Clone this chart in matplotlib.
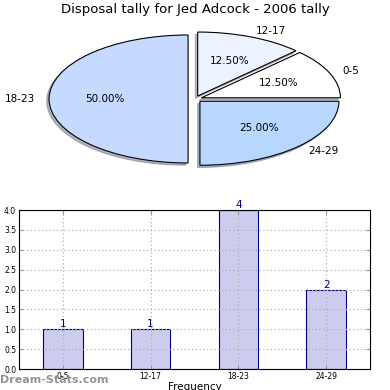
import matplotlib
matplotlib.use('Agg')
import matplotlib.pyplot as plt

# data
ages = ['0-5', '12-17', '18-23', '24-29']
tally = [1, 1, 4, 2]
pie_colors = ['#ffffff', '#edf2ff', '#c6d9ff', '#b7d7ff']

fig = plt.figure(figsize=(3.9, 3.9), dpi=100)

# pie (stretched, not circular)
ax1 = fig.add_axes([0.0367, 0.5328, 0.9267, 0.4267])
wedges, texts, autotexts = ax1.pie(
    tally, labels=ages, colors=pie_colors, explode=[0.05] * 4,
    autopct='%1.2f%%', shadow=dict(ox=-0.012, oy=-0.025, shade=0.5),
    startangle=0,
    wedgeprops=dict(edgecolor='black', linewidth=0.8),
    textprops=dict(fontsize=7.5))
ax1.set_aspect('auto')
ax1.set_xlim(-1.3, 1.3)
ax1.set_ylim(-1.3, 1.3)
ax1.axis('off')
fig.text(0.5, 0.975, 'Disposal tally for Jed Adcock - 2006 tally',
         ha='center', va='center', fontsize=9.5)

# bar chart
ax2 = fig.add_axes([0.0487, 0.0538, 0.9, 0.4077])
x = range(len(ages))
ax2.bar(x, tally, width=0.45, color='#ccccee', edgecolor='navy', linewidth=0.8)
for i, v in enumerate(tally):
    ax2.text(i, v, str(v), ha='center', va='bottom', color='navy', fontsize=7.5)
ax2.set_xlim(-0.5, 3.5)
ax2.set_ylim(0, 4)
ax2.set_yticks([0, 0.5, 1, 1.5, 2, 2.5, 3, 3.5, 4])
ax2.set_xticks(list(x))
ax2.set_xticklabels(ages)
ax2.tick_params(labelsize=5.5, direction='in', top=True, right=True,
                length=3, color='#999999', pad=2)
ax2.grid(True, linestyle=(0, (1, 2)), color='#b0b0b0', linewidth=0.9)
ax2.set_axisbelow(False)
for sp in ax2.spines.values():
    sp.set_zorder(4)
ax2.set_xlabel('Frequency', fontsize=7.5, labelpad=1)

fig.text(0.0, 0.025, 'Dream-Stats.com', color='#888888', fontsize=8,
         fontweight='bold', ha='left', va='center', alpha=0.9)

plt.savefig('out.png', dpi=100)
